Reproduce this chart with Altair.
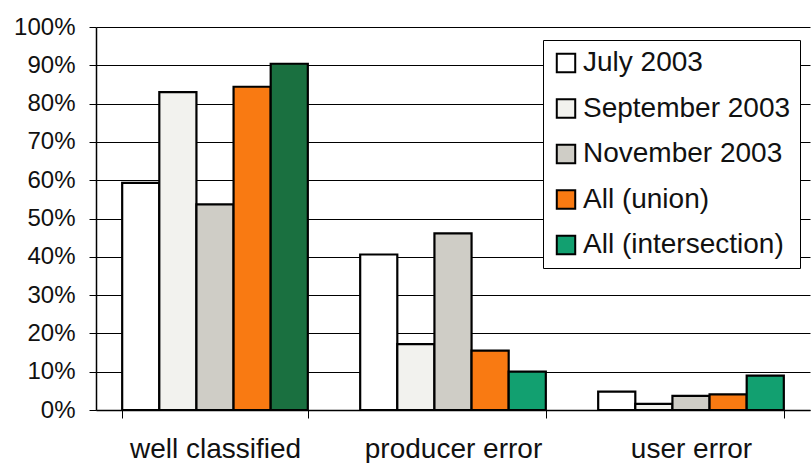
import altair as alt
import pandas as pd

categories = ["well classified", "producer error", "user error"]
series = ["July 2003", "September 2003", "November 2003", "All (union)", "All (intersection)"]
colors = ["#ffffff", "#f2f2ee", "#cfcdc6", "#f97a12", "#12a070"]

well_classified = [0.593, 0.830, 0.537, 0.844, 0.904]
producer_error = [0.406, 0.172, 0.461, 0.155, 0.100]
user_error = [0.048, 0.016, 0.037, 0.041, 0.090]

rows = []
for cat, vals in zip(categories, [well_classified, producer_error, user_error]):
    for s, v in zip(series, vals):
        rows.append({"category": cat, "series": s, "value": v})
df = pd.DataFrame(rows)

font = "Liberation Sans"

bars = alt.Chart(df).mark_bar(stroke="black", strokeWidth=2.2).encode(
    x=alt.X(
        "category:N",
        sort=categories,
        title=None,
        scale=alt.Scale(paddingInner=0.22, paddingOuter=0.11),
        axis=alt.Axis(
            labelAngle=0,
            labelFont=font,
            labelFontSize=28,
            labelColor="#111",
            labelPadding=17,
            tickBand="extent",
            tickSize=8,
            tickColor="black",
            domainColor="black",
            domainWidth=1.5,
            grid=False,
        ),
    ),
    xOffset=alt.XOffset("series:N", sort=series, scale=alt.Scale(paddingInner=0, paddingOuter=0)),
    y=alt.Y(
        "value:Q",
        title=None,
        scale=alt.Scale(domain=[0, 1]),
        axis=alt.Axis(
            format="%",
            values=[i / 10 for i in range(11)],
            labelFont=font,
            labelFontSize=24,
            labelColor="#111",
            labelPadding=14,
            tickSize=7,
            tickColor="black",
            domainColor="black",
            domainWidth=1.5,
            gridColor="black",
            gridWidth=1,
        ),
    ),
    color=alt.condition(
        (alt.datum.category == "well classified") & (alt.datum.series == "All (intersection)"),
        alt.value("#1a7040"),
        alt.Color(
            "series:N",
            sort=series,
            scale=alt.Scale(domain=series, range=colors),
            legend=alt.Legend(
                title=None,
                orient="none",
                legendX=447,
                legendY=13,
                fillColor="white",
                strokeColor="black",
                padding=9,
                rowPadding=17.5,
                symbolType="square",
                symbolSize=340,
                symbolStrokeColor="black",
                symbolStrokeWidth=2,
                labelFont=font,
                labelFontSize=28,
                labelColor="#111",
                labelLimit=400,
                labelOffset=3,
            ),
        ),
    ),
)

chart = bars.properties(
    width=714,
    height=383,
    autosize=alt.AutoSizeParams(type="none"),
    padding={"left": 96, "top": 27, "right": 1, "bottom": 53},
    background="white",
).configure_view(stroke=None)

chart.save("out.html", embed_options={"renderer": "svg", "actions": False})
